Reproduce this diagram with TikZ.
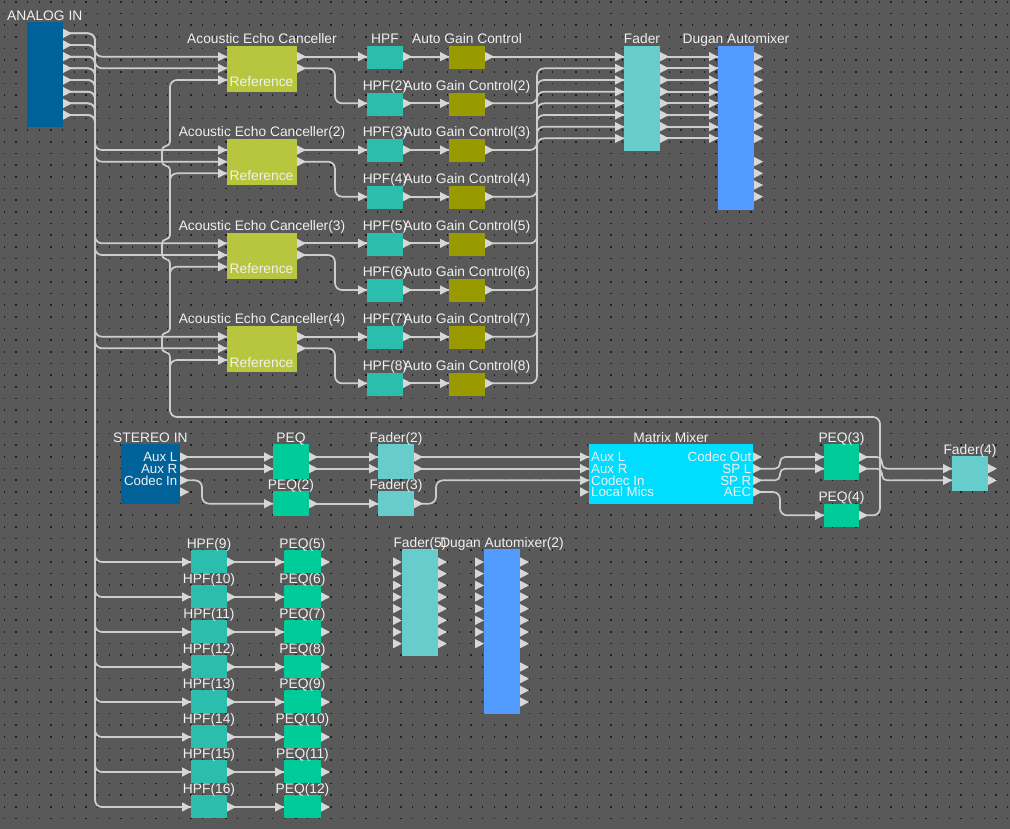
\documentclass[tikz,border=0pt]{standalone}
\usepackage{fontspec}
\setmainfont{Liberation Sans}
\usetikzlibrary{calc}
\pgfdeclarelayer{bglayer}\pgfdeclarelayer{wires}
\pgfsetlayers{bglayer,wires,main}
\definecolor{bgc}{RGB}{89,89,89}
\definecolor{dotc}{RGB}{30,30,30}
\definecolor{wirec}{RGB}{205,205,205}
\definecolor{portc}{RGB}{215,215,215}
\definecolor{txt}{RGB}{240,240,240}
\definecolor{ioblue}{RGB}{0,98,152}
\definecolor{aecc}{RGB}{183,198,62}
\definecolor{hpfc}{RGB}{44,190,172}
\definecolor{agcc}{RGB}{153,153,0}
\definecolor{fadc}{RGB}{102,204,204}
\definecolor{dugc}{RGB}{82,156,255}
\definecolor{peqc}{RGB}{0,204,153}
\definecolor{mtxc}{RGB}{0,221,255}
\tikzset{
 wire/.style={draw=wirec, line width=1.7pt, rounded corners=7pt},
 swire/.style={wire, rounded corners=5pt},
 hopwire/.style={draw=wirec, line width=1.7pt, sharp corners},
 lbl/.style={text=txt, font=\fontsize{13.8}{14}\selectfont, inner sep=0pt, anchor=base},
 plbl/.style={lbl, font=\fontsize{13.3}{13.5}\selectfont},
 blockbox/.style={inner sep=0pt, outer sep=0pt, draw=none},
}
\newcommand\blk[6]{\node[blockbox, fill=#6, minimum width={((#4)-(#2))*1pt}, minimum height={((#5)-(#3))*1pt}] (#1) at ({((#2)+(#4))/2},{((#3)+(#5))/2}) {};}
\newcommand\inp[3]{\coordinate (#1) at (#2,{#3}); \fill[portc] (#1) -- ++(-9,-4.7) -- ++(0,9.4) -- cycle;}
\newcommand\outp[3]{\coordinate (#1) at (#2,{#3}); \fill[portc] (#1) -- ++(0,-4.7) -- ++(9,4.7) -- ++(-9,4.7) -- cycle;}
\newcommand\PY[1]{(33.333+11.667*(#1))}
\newcommand\LY[1]{(457+11.667*(#1))}
\begin{document}
\begin{tikzpicture}[x=1pt,y=-1pt]
\useasboundingbox (0,0) rectangle (1010,829);
\begin{pgfonlayer}{bglayer}
\fill[bgc] (0,0) rectangle (1010,829);
\foreach \j in {0,...,71}{
 \draw[dotc, line width=1.6pt, dash pattern=on 1.6pt off 10.067pt] (3.5,{1.85+11.667*\j}) -- (1010,{1.85+11.667*\j});
}
\end{pgfonlayer}

% ANALOG IN
\blk{ain}{27}{22}{63}{127}{ioblue}
\node[lbl, anchor=base west] (ain-l) at (7,20.5) {ANALOG IN};
\foreach \i in {0,...,7} {\outp{ain-o\i}{63}{\PY{\i}}}

% AEC
\foreach \k/\s in {0/Acoustic Echo Canceller,1/Acoustic Echo Canceller(2),2/Acoustic Echo Canceller(3),3/Acoustic Echo Canceller(4)} {
 \blk{aec\k}{227}{46+93.333*\k}{297}{92+93.333*\k}{aecc}
 \node[lbl] (aec\k-l) at (262,{43.5+93.333*\k}) {\s};
 \node[lbl, anchor=base west] (aec\k-rl) at (229.5,{\PY{4+8*\k}+7}) {Reference};
 \inp{aec\k-i0}{227}{\PY{2+8*\k}}
 \inp{aec\k-i1}{227}{\PY{3+8*\k}}
 \inp{aec\k-r}{227}{\PY{4+8*\k}}
 \outp{aec\k-o0}{297}{\PY{2+8*\k}}
 \outp{aec\k-o1}{297}{\PY{3+8*\k}}
}

% HPF and AGC
\foreach \j/\ha/\ga in {0/HPF/Auto Gain Control,1/HPF(2)/Auto Gain Control(2),2/HPF(3)/Auto Gain Control(3),3/HPF(4)/Auto Gain Control(4),4/HPF(5)/Auto Gain Control(5),5/HPF(6)/Auto Gain Control(6),6/HPF(7)/Auto Gain Control(7),7/HPF(8)/Auto Gain Control(8)} {
 \blk{hpf\j}{367}{\PY{2+4*\j}-10.667}{403}{\PY{2+4*\j}+12.333}{hpfc}
 \node[lbl] (hpf\j-l) at (385,{\PY{2+4*\j}-13.2}) {\ha};
 \inp{hpf\j-i}{367}{\PY{2+4*\j}}
 \outp{hpf\j-o}{403}{\PY{2+4*\j}}
 \blk{agc\j}{449}{\PY{2+4*\j}-10.667}{485}{\PY{2+4*\j}+12.333}{agcc}
 \node[lbl] (agc\j-l) at (467,{\PY{2+4*\j}-13.2}) {\ga};
 \inp{agc\j-i}{449}{\PY{2+4*\j}}
 \outp{agc\j-o}{485}{\PY{2+4*\j}}
}

% Fader and Dugan
\blk{fad}{624}{46}{660}{151}{fadc}
\node[lbl] (fad-l) at (642,43.5) {Fader};
\blk{dug}{718}{46}{754}{210}{dugc}
\node[lbl] (dug-l) at (736,43.5) {Dugan Automixer};
\foreach \i in {0,...,7} {
 \inp{fad-i\i}{624}{\PY{2+\i}}
 \outp{fad-o\i}{660}{\PY{2+\i}}
 \inp{dug-i\i}{718}{\PY{2+\i}}
 \outp{dug-o\i}{754}{\PY{2+\i}}
}
\foreach \i in {8,...,11} {\outp{dug-o\i}{754}{\PY{3+\i}}}

% STEREO IN
\blk{stin}{121}{443.5}{180}{503.5}{ioblue}
\node[lbl, anchor=base west] (stin-l) at (113,442) {STEREO IN};
\node[plbl, anchor=base east] (stin-l0) at (177.5,{\LY{0}+4.8}) {Aux L};
\node[plbl, anchor=base east] (stin-l1) at (177.5,{\LY{1}+4.8}) {Aux R};
\node[plbl, anchor=base east] (stin-l2) at (177.5,{\LY{2}+4.8}) {Codec In};
\foreach \m in {0,...,3} {\outp{stin-o\m}{180}{\LY{\m}}}

% PEQ, PEQ(2)
\blk{peq1}{273}{444}{309}{479}{peqc}
\node[lbl] (peq1-l) at (291,442) {PEQ};
\inp{peq1-i0}{273}{\LY{0}} \inp{peq1-i1}{273}{\LY{1}}
\outp{peq1-o0}{309}{\LY{0}} \outp{peq1-o1}{309}{\LY{1}}
\blk{peq2}{273}{491}{309}{515.5}{peqc}
\node[lbl] (peq2-l) at (291,489) {PEQ(2)};
\inp{peq2-i}{273}{\LY{4}} \outp{peq2-o}{309}{\LY{4}}

% Fader(2), Fader(3)
\blk{fad2}{378}{444}{414}{479}{fadc}
\node[lbl] (fad2-l) at (396,442) {Fader(2)};
\inp{fad2-i0}{378}{\LY{0}} \inp{fad2-i1}{378}{\LY{1}}
\outp{fad2-o0}{414}{\LY{0}} \outp{fad2-o1}{414}{\LY{1}}
\blk{fad3}{378}{491}{414}{515.5}{fadc}
\node[lbl] (fad3-l) at (396,489) {Fader(3)};
\inp{fad3-i}{378}{\LY{4}} \outp{fad3-o}{414}{\LY{4}}

% Matrix Mixer
\blk{mtx}{589}{443.5}{753}{503.5}{mtxc}
\node[lbl] (mtx-l) at (671,442) {Matrix Mixer};
\foreach \m/\a/\b in {0/Aux L/Codec Out,1/Aux R/SP L,2/Codec In/SP R,3/Local Mics/AEC} {
 \node[plbl, anchor=base west] (mtx-il\m) at (591,{\LY{\m}+4.8}) {\a};
 \node[plbl, anchor=base east] (mtx-ol\m) at (751.5,{\LY{\m}+4.8}) {\b};
 \inp{mtx-i\m}{589}{\LY{\m}}
 \outp{mtx-o\m}{753}{\LY{\m}}
}

% PEQ(3), PEQ(4)
\blk{peq3}{824}{444}{859}{480}{peqc}
\node[lbl] (peq3-l) at (841.5,442.5) {PEQ(3)};
\inp{peq3-i0}{824}{\LY{0}} \inp{peq3-i1}{824}{\LY{1}}
\outp{peq3-o0}{859}{\LY{0}} \outp{peq3-o1}{859}{\LY{1}}
\blk{peq4}{824}{503.5}{859}{527}{peqc}
\node[lbl] (peq4-l) at (841.5,501.5) {PEQ(4)};
\inp{peq4-i}{824}{\LY{5}} \outp{peq4-o}{859}{\LY{5}}

% Fader(4)
\blk{fad4}{952}{456}{988}{491}{fadc}
\node[lbl] (fad4-l) at (970,454) {Fader(4)};
\inp{fad4-i0}{952}{\LY{1}} \inp{fad4-i1}{952}{\LY{2}}
\outp{fad4-o0}{988}{\LY{1}} \outp{fad4-o1}{988}{\LY{2}}

% bottom HPF(9..16), PEQ(5..12)
\foreach \i in {0,...,7} {
 \pgfmathtruncatemacro\hn{9+\i}
 \pgfmathtruncatemacro\pn{5+\i}
 \blk{hpfb\i}{191}{550+35*\i}{227}{573+35*\i}{hpfc}
 \node[lbl] (hpfb\i-l) at (209,{548.5+35*\i}) {HPF(\hn)};
 \inp{hpfb\i-i}{191}{562+35*\i}
 \outp{hpfb\i-o}{227}{562+35*\i}
 \blk{peqb\i}{284}{550+35*\i}{321}{573+35*\i}{peqc}
 \node[lbl] (peqb\i-l) at (302.5,{548.5+35*\i}) {PEQ(\pn)};
 \inp{peqb\i-i}{284}{562+35*\i}
 \outp{peqb\i-o}{321}{562+35*\i}
}

% Fader(5), Dugan Automixer(2)
\blk{fad5}{402}{549}{438}{656}{fadc}
\node[lbl] (fad5-l) at (420,547.5) {Fader(5)};
\blk{dug2}{484}{549}{520}{714}{dugc}
\node[lbl] (dug2-l) at (502,547.5) {Dugan Automixer(2)};
\foreach \i in {0,...,7} {
 \inp{fad5-i\i}{402}{562+11.667*\i}
 \outp{fad5-o\i}{438}{562+11.667*\i}
 \inp{dug2-i\i}{484}{562+11.667*\i}
 \outp{dug2-o\i}{520}{562+11.667*\i}
}
\foreach \i in {9,...,12} {\outp{dug2-o\i}{520}{562+11.667*\i}}

% bus coordinates
\coordinate (busA) at (95,0);
\coordinate (busB) at (335,0);
\coordinate (busC) at (537,0);
\coordinate (busS) at (202,0);
\coordinate (busF) at (436,0);
\coordinate (busM) at (780,0);
\coordinate (busP) at (882,0);
\coordinate (rbr) at (880,417);
\coordinate (rbl) at (170,417);
\coordinate (hopA) at (170,356.3);
\coordinate (hopB) at (170,142);

\begin{pgfonlayer}{wires}
\foreach \i/\t in {0/aec0-i0,1/aec0-i1,2/aec1-i0,3/aec1-i1,4/aec2-i0,5/aec2-i1,6/aec3-i0,7/aec3-i1}{
 \draw[wire] (ain-o\i) -- (ain-o\i -| busA) |- (\t);
 \draw[wire] (ain-o\i) -- (ain-o\i -| busA) |- (hpfb\i-i);
}
\foreach \k/\a/\b in {0/0/1,1/2/3,2/4/5,3/6/7}{
 \draw[wire] (aec\k-o0) -- (hpf\a-i);
 \draw[wire] (aec\k-o1) -- (aec\k-o1 -| busB) |- (hpf\b-i);
}
\foreach \j in {0,...,7} {\draw[wire] (hpf\j-o) -- (agc\j-i);}
\draw[wire] (agc0-o) -- (fad-i0);
\foreach \j in {1,...,7} {\draw[wire] (agc\j-o) -- (agc\j-o -| busC) |- (fad-i\j);}
\foreach \j in {0,...,7} {\draw[wire] (fad-o\j) -- (dug-i\j);}
\foreach \i in {0,...,7} {\draw[wire] (hpfb\i-o) -- (peqb\i-i);}

% reference bus
\draw[wire] (peq4-o) -| (rbr) -- (rbl) -- (hopA);
\draw[hopwire] (hopA)
 .. controls (170,351.3) and (162,353.3) .. (162,348.3) -- (162,336.7)
 .. controls (162,331.7) and (170,333.7) .. (170,328.7) -- (170,263)
 .. controls (170,258) and (162,260) .. (162,255) -- (162,243.3)
 .. controls (162,238.3) and (170,240.3) .. (170,235.3) -- (170,169.7)
 .. controls (170,164.7) and (162,166.7) .. (162,161.7) -- (162,150)
 .. controls (162,145) and (170,147) .. (hopB);
\draw[wire] (hopB) |- (aec0-r);
\foreach \k in {1,2,3} {\draw[wire] (170,{\PY{4+8*\k}+14}) |- (aec\k-r);}

% lower section
\draw[wire] (stin-o0) -- (peq1-i0);
\draw[wire] (stin-o1) -- (peq1-i1);
\draw[wire] (stin-o2) -- (stin-o2 -| busS) |- (peq2-i);
\draw[wire] (peq1-o0) -- (fad2-i0);
\draw[wire] (peq1-o1) -- (fad2-i1);
\draw[wire] (peq2-o) -- (fad3-i);
\draw[wire] (fad2-o0) -- (mtx-i0);
\draw[wire] (fad2-o1) -- (mtx-i1);
\draw[wire] (fad3-o) -- (fad3-o -| busF) |- (mtx-i2);
\draw[swire] (mtx-o1) -- (mtx-o1 -| busM) |- (peq3-i0);
\draw[swire] (mtx-o2) -- (mtx-o2 -| busM) |- (peq3-i1);
\draw[wire] (mtx-o3) -- (mtx-o3 -| busM) |- (peq4-i);
\draw[swire] (peq3-o0) -- (peq3-o0 -| busP) |- (fad4-i0);
\draw[swire] (peq3-o1) -- (peq3-o1 -| busP) |- (fad4-i1);
\end{pgfonlayer}
\end{tikzpicture}
\end{document}
